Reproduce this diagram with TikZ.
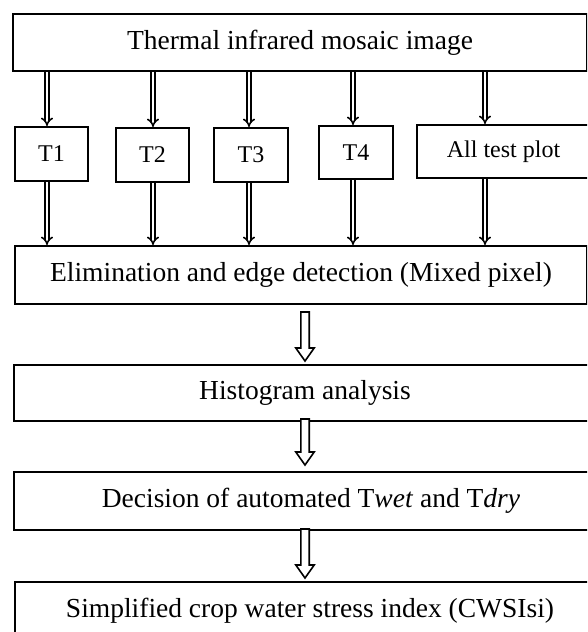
\documentclass[tikz,border=0pt]{standalone}
\usepackage{fontspec}
\setmainfont{Liberation Serif}
\usetikzlibrary{arrows.meta,calc,positioning}
\tikzset{
  box/.style={draw, line width=2pt, rectangle, anchor=north west, inner sep=0pt,
    font=\fontsize{27.5}{30}\selectfont},
  tbox/.style={box, font=\fontsize{24}{27}\selectfont},
  sarrow/.style={double, double distance=2.4pt, line width=1.6pt, -{Implies}},
  bigarrow/.style={draw, line width=1.6pt, fill=white, line join=miter},
}
\newcommand{\hollowarrow}[2]{%
  \path[bigarrow] let \p1=(#1), \p2=(#2) in
    (\x1-4.2pt,\y1) -- (\x1+4.2pt,\y1) -- (\x1+4.2pt,\y2+13pt) --
    (\x1+9.2pt,\y2+13pt) -- (\x1,\y2) -- (\x1-9.2pt,\y2+13pt) --
    (\x1-4.2pt,\y2+13pt) -- cycle;}
\begin{document}
\begin{tikzpicture}[x=1pt,y=-1pt]
\useasboundingbox (0,0) rectangle (587,632);
\clip (0,0) rectangle (587,632);
% boxes
\node[box, minimum width=574pt, minimum height=57pt] (top) at (12,13) {Thermal infrared mosaic image};
\node[tbox, minimum width=73pt, minimum height=54pt] (T1) at (14,126) {T1};
\node[tbox, minimum width=73pt, minimum height=54pt] (T2) at (115,127) {T2};
\node[tbox, minimum width=74pt, minimum height=54pt] (T3) at (213,127) {T3};
\node[tbox, minimum width=74pt, minimum height=53pt] (T4) at (318,125) {T4};
\node[tbox, minimum width=173pt, minimum height=53pt] (all) at (416,124) {All test plot};
\node[box, minimum width=572pt, minimum height=58pt] (elim) at (14,245) {Elimination and edge detection (Mixed pixel)};
\node[box, minimum width=582pt, minimum height=56pt] (hist) at (13,364) {Histogram analysis};
\node[box, minimum width=594pt, minimum height=58pt] (dec) at (13,471) {Decision of automated T\textit{wet} and T\textit{dry}};
\node[box, minimum width=590pt, minimum height=58pt] (simp) at (14,581) {Simplified crop water stress index (CWSIsi)};
% arrow columns
\coordinate (c1) at (47,0);
\coordinate (c2) at (153,0);
\coordinate (c3) at (249,0);
\coordinate (c4) at (353,0);
\coordinate (c5) at (485,0);
\coordinate (c0) at (305,0);
\draw[sarrow] (top.south -| c1) -- (T1.north -| c1);
\draw[sarrow] (top.south -| c2) -- (T2.north -| c2);
\draw[sarrow] (top.south -| c3) -- (T3.north -| c3);
\draw[sarrow] (top.south -| c4) -- (T4.north -| c4);
\draw[sarrow] (top.south -| c5) -- (all.north -| c5);
\draw[sarrow] (T1.south -| c1) -- (elim.north -| c1);
\draw[sarrow] (T2.south -| c2) -- (elim.north -| c2);
\draw[sarrow] (T3.south -| c3) -- (elim.north -| c3);
\draw[sarrow] (T4.south -| c4) -- (elim.north -| c4);
\draw[sarrow] (all.south -| c5) -- (elim.north -| c5);
% big hollow arrows
\coordinate (a1s) at ($(elim.south -| c0)+(0,7)$);
\coordinate (a1e) at ($(hist.north -| c0)+(0,-3)$);
\coordinate (a2s) at ($(hist.south -| c0)+(0,-3)$);
\coordinate (a2e) at ($(dec.north -| c0)+(0,-6)$);
\coordinate (a3s) at ($(dec.south -| c0)+(0,-2)$);
\coordinate (a3e) at ($(simp.north -| c0)+(0,-3)$);
\hollowarrow{a1s}{a1e}
\hollowarrow{a2s}{a2e}
\hollowarrow{a3s}{a3e}
\end{tikzpicture}
\end{document}
